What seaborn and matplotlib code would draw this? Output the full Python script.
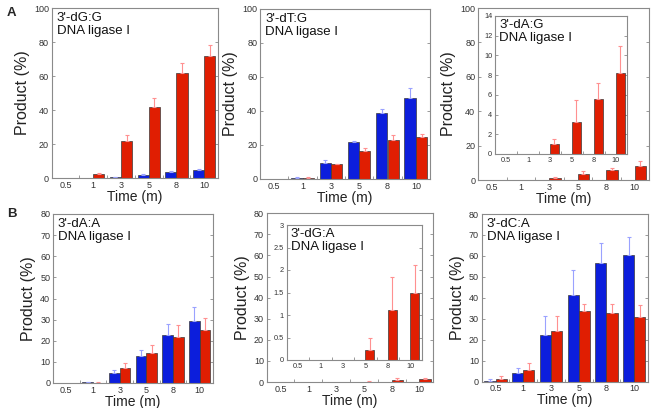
import numpy as np
import pandas as pd
import matplotlib
matplotlib.use("Agg")
import matplotlib.pyplot as plt
from matplotlib.ticker import FixedLocator
import seaborn as sns

sns.set_theme(style="white")
plt.rcParams['font.family'] = ['Liberation Sans', 'DejaVu Sans']

times = ['0.5', '1', '3', '5', '8', '10']

# Panel A1: 3'-dG:G
dGG_blue = [0, 0, 0.6, 2.0, 3.5, 4.7]
dGG_blue_err = [0, 0, 0.2, 0.5, 0.6, 0.8]
dGG_red = [0, 2.2, 21.9, 41.5, 61.6, 71.5]
dGG_red_err = [0, 1.0, 3.3, 5.3, 6.3, 6.8]

# Panel A2: 3'-dT:G
dTG_blue = [0, 0.6, 9.6, 21.6, 38.8, 47.6]
dTG_blue_err = [0, 0.6, 1.8, 0.9, 2.4, 6.1]
dTG_red = [0, 0.6, 8.6, 16.7, 22.9, 24.5]
dTG_red_err = [0, 0.3, 0.4, 1.3, 3.1, 2.2]

# Panel A3: 3'-dA:G
dAG_blue = [0, 0, 0, 0, 0, 0]
dAG_blue_err = [0, 0, 0, 0, 0, 0]
dAG_red = [0, 0, 1.04, 3.27, 5.63, 8.24]
dAG_red_err = [0, 0, 0.5, 2.2, 1.6, 2.7]

# Panel B1: 3'-dA:A
dAA_blue = [0, 0.4, 4.8, 12.7, 22.7, 29.2]
dAA_blue_err = [0, 0.3, 1.3, 2.9, 5.3, 6.9]
dAA_red = [0, 0.2, 7.1, 14.0, 21.9, 25.2]
dAA_red_err = [0, 0.2, 2.4, 3.9, 5.7, 5.8]

# Panel B2: 3'-dG:A
dGA_blue = [0, 0, 0, 0, 0, 0]
dGA_blue_err = [0, 0, 0, 0, 0, 0]
dGA_red = [0, 0, 0, 0.23, 1.11, 1.49]
dGA_red_err = [0, 0, 0, 0.26, 0.74, 0.62]

# Panel B3: 3'-dC:A
dCA_blue = [0.5, 4.0, 22.3, 41.3, 56.5, 60.6]
dCA_blue_err = [0.8, 2.6, 9.2, 12.1, 9.5, 8.3]
dCA_red = [1.3, 5.6, 24.2, 33.5, 33.0, 30.8]
dCA_red_err = [1.3, 3.4, 7.3, 3.5, 4.0, 6.0]

BLUE = '#0c1edc'
RED = '#e01e02'
BLUE_ERR = '#9aa2ff'
RED_ERR = '#ff9090'
SPINE = '#8a8a8a'

W, H = 654, 408
fig = plt.figure(figsize=(W / 100, H / 100), dpi=100)


def make_ax(x0, x1, y0, y1):
    return fig.add_axes([x0 / W, 1 - y1 / H, (x1 - x0) / W, (y1 - y0) / H])


def draw(ax, blue, red, berr, rerr, ylim, yticks, ytlabels, fs_tick, main=True, label=None, lab_fs=9.5):
    df = pd.DataFrame({'Time': times * 2,
                       'Series': ['blue'] * 6 + ['red'] * 6,
                       'Product': list(blue) + list(red)})
    sns.barplot(data=df, x='Time', y='Product', hue='Series', order=times,
                hue_order=['blue', 'red'], palette=[BLUE, RED], width=0.8,
                gap=0, edgecolor='#3a3a3a', linewidth=0.5, errorbar=None,
                legend=False, saturation=1, ax=ax)
    errs = list(berr) + list(rerr)
    cols = [BLUE_ERR] * 6 + [RED_ERR] * 6
    for p, e, c in zip(ax.patches, errs, cols):
        if e > 0:
            ax.errorbar(p.get_x() + p.get_width() / 2, p.get_height(),
                        yerr=[[0], [e]], fmt='none', ecolor=c,
                        elinewidth=0.8, capsize=1.2, capthick=0.8, zorder=1)
    ax.set_xlim(-0.5, 5.5)
    ax.set_ylim(*ylim)
    ax.set_yticks(yticks)
    ax.set_yticklabels(ytlabels)
    ax.set_xticks(range(6))
    ax.set_xticklabels(times)
    ax.xaxis.set_minor_locator(FixedLocator([0.5, 1.5, 2.5, 3.5, 4.5]))
    ax.tick_params(axis='x', which='major', length=0, labelsize=fs_tick, pad=2, colors='#333333')
    ax.tick_params(axis='x', which='minor', length=2.5, width=0.6, direction='in', color=SPINE, bottom=True)
    ax.tick_params(axis='y', which='major', length=2.5, width=0.6, direction='in',
                   left=True, right=True, labelsize=fs_tick, pad=2, colors='#333333')
    ax.tick_params(axis='y', colors=SPINE, labelcolor='#333333')
    for s in ax.spines.values():
        s.set_color(SPINE)
        s.set_linewidth(0.8)
    ax.set_facecolor('white')
    if main:
        ax.set_xlabel('Time (m)', fontsize=10, labelpad=0, color='#222222')
        ax.set_ylabel('Product (%)', fontsize=11.5, labelpad=3, color='#222222')
    else:
        ax.set_xlabel('')
        ax.set_ylabel('')
    if label:
        ax.text(0.03, 0.975, label,
                transform=ax.transAxes, ha='left', va='top', fontsize=lab_fs,
                linespacing=1.05, color='#111111')


t100 = [0, 20, 40, 60, 80, 100]
t80 = [0, 10, 20, 30, 40, 50, 60, 70, 80]

ax1 = make_ax(51.7, 218, 8, 178)
draw(ax1, dGG_blue, dGG_red, dGG_blue_err, dGG_red_err, (0, 100), t100,
     [str(v) for v in t100], 6.5, label="3'-dG:G\nDNA ligase I")

ax2 = make_ax(260, 430, 9, 179)
draw(ax2, dTG_blue, dTG_red, dTG_blue_err, dTG_red_err, (0, 100), t100,
     [str(v) for v in t100], 6.5, label="3'-dT:G\nDNA ligase I")

ax3 = make_ax(478, 649, 8, 180)
draw(ax3, dAG_blue, dAG_red, dAG_blue_err, dAG_red_err, (0, 100), t100,
     [str(v) for v in t100], 6.5)
ax3i = make_ax(495, 627, 16, 154)
t14 = [0, 2, 4, 6, 8, 10, 12, 14]
draw(ax3i, dAG_blue, dAG_red, dAG_blue_err, dAG_red_err, (0, 14), t14,
     [str(v) for v in t14], 5.3, main=False, label="3'-dA:G\nDNA ligase I")

ax4 = make_ax(53, 213, 214, 383)
draw(ax4, dAA_blue, dAA_red, dAA_blue_err, dAA_red_err, (0, 80), t80,
     [str(v) for v in t80], 6.5, label="3'-dA:A\nDNA ligase I")

ax5 = make_ax(266.7, 433.3, 213.3, 382)
draw(ax5, dGA_blue, dGA_red, dGA_blue_err, dGA_red_err, (0, 80), t80,
     [str(v) for v in t80], 6.5)
ax5i = make_ax(286.7, 421.7, 225, 360)
t3 = [0, 0.5, 1, 1.5, 2, 2.5, 3]
draw(ax5i, dGA_blue, dGA_red, dGA_blue_err, dGA_red_err, (0, 3), t3,
     ['0', '0.5', '1', '1.5', '2', '2.5', '3'], 5.3, main=False,
     label="3'-dG:A\nDNA ligase I")

ax6 = make_ax(481.7, 648, 214, 381.7)
draw(ax6, dCA_blue, dCA_red, dCA_blue_err, dCA_red_err, (0, 80), t80,
     [str(v) for v in t80], 6.5, label="3'-dC:A\nDNA ligase I")

fig.text(7 / W, 1 - 13 / H, 'A', fontsize=9.5, fontweight='bold', ha='left', va='center')
fig.text(7 / W, 1 - 214 / H, 'B', fontsize=9.5, fontweight='bold', ha='left', va='center')

fig.savefig('out.png', dpi=100, facecolor='white')
